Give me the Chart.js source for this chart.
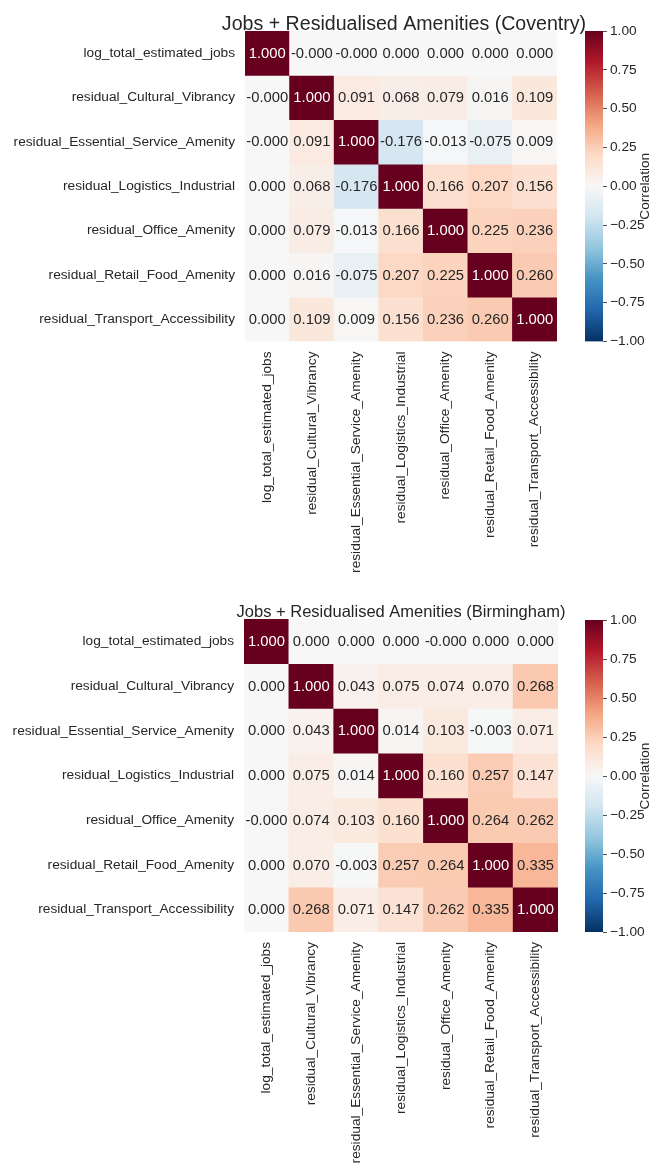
<!DOCTYPE html>
<html>
<head>
<meta charset="utf-8">
<script src="https://cdn.jsdelivr.net/npm/chart.js@4.4.1/dist/chart.umd.min.js"></script>
<style>
  html, body { margin: 0; padding: 0; background: #ffffff; }
  body { width: 660px; height: 1163px; position: relative; overflow: hidden; }
  canvas { position: absolute; }
</style>
</head>
<body>
<canvas id="hmCoventry"></canvas>
<canvas id="cbCoventry"></canvas>
<canvas id="hmBirmingham"></canvas>
<canvas id="cbBirmingham"></canvas>
<script>
// ---- data ---------------------------------------------------------------
const variables = [
  'log_total_estimated_jobs',
  'residual_Cultural_Vibrancy',
  'residual_Essential_Service_Amenity',
  'residual_Logistics_Industrial',
  'residual_Office_Amenity',
  'residual_Retail_Food_Amenity',
  'residual_Transport_Accessibility'
];

// tiny negative values print as "-0.000"
const coventryCorr = [
  [ 1.000, -0.0001, -0.0001,  0.000,  0.000,  0.000,  0.000],
  [-0.0001, 1.000,   0.091,   0.068,  0.079,  0.016,  0.109],
  [-0.0001, 0.091,   1.000,  -0.176, -0.013, -0.075,  0.009],
  [ 0.000,  0.068,  -0.176,   1.000,  0.166,  0.207,  0.156],
  [ 0.000,  0.079,  -0.013,   0.166,  1.000,  0.225,  0.236],
  [ 0.000,  0.016,  -0.075,   0.207,  0.225,  1.000,  0.260],
  [ 0.000,  0.109,   0.009,   0.156,  0.236,  0.260,  1.000]
];

const birminghamCorr = [
  [ 1.000,  0.000,  0.000,  0.000, -0.0001, 0.000,  0.000],
  [ 0.000,  1.000,  0.043,  0.075,  0.074,  0.070,  0.268],
  [ 0.000,  0.043,  1.000,  0.014,  0.103, -0.003,  0.071],
  [ 0.000,  0.075,  0.014,  1.000,  0.160,  0.257,  0.147],
  [-0.0001, 0.074,  0.103,  0.160,  1.000,  0.264,  0.262],
  [ 0.000,  0.070, -0.003,  0.257,  0.264,  1.000,  0.335],
  [ 0.000,  0.268,  0.071,  0.147,  0.262,  0.335,  1.000]
];

const colorbarTicks = [-1.00, -0.75, -0.50, -0.25, 0.00, 0.25, 0.50, 0.75, 1.00];
const colorbarLabel = 'Correlation';

const titleCoventry = 'Jobs + Residualised Amenities (Coventry)';
const titleBirmingham = 'Jobs + Residualised Amenities (Birmingham)';

// ---- styling ------------------------------------------------------------
const FONT = "'Liberation Sans', Arial, Helvetica, sans-serif";
const INK = '#262626';
Chart.defaults.font.family = FONT;
Chart.defaults.color = INK;

// diverging red/blue palette, -1 (blue) .. +1 (red)
const RDBU_R = ['#053061', '#2166ac', '#4393c3', '#92c5de', '#d1e5f0', '#f7f7f7',
                '#fddbc7', '#f4a582', '#d6604d', '#b2182b', '#67001f'];

function hexToRgb(h) {
  return [parseInt(h.slice(1, 3), 16), parseInt(h.slice(3, 5), 16), parseInt(h.slice(5, 7), 16)];
}
const RDBU_RGB = RDBU_R.map(hexToRgb);

function cmapRgb(v) {
  const t = Math.max(0, Math.min(1, (v + 1) / 2)) * (RDBU_RGB.length - 1);
  const i = Math.min(Math.floor(t), RDBU_RGB.length - 2);
  const f = t - i;
  const a = RDBU_RGB[i], b = RDBU_RGB[i + 1];
  return [0, 1, 2].map(k => Math.round(a[k] + (b[k] - a[k]) * f));
}
function cmap(v) {
  const c = cmapRgb(v);
  return `rgb(${c[0]},${c[1]},${c[2]})`;
}
// light cells get dark text, dark cells get white text
function textColorFor(v) {
  const lin = cmapRgb(v).map(x => {
    const s = x / 255;
    return s <= 0.03928 ? s / 12.92 : Math.pow((s + 0.055) / 1.055, 2.4);
  });
  const lum = 0.2126 * lin[0] + 0.7152 * lin[1] + 0.0722 * lin[2];
  return lum > 0.408 ? INK : '#ffffff';
}

// ---- plugins ------------------------------------------------------------
const cellLabels = {
  id: 'cellLabels',
  afterDatasetsDraw(chart, args, opts) {
    const ctx = chart.ctx;
    ctx.save();
    ctx.font = `${opts.size}px ${FONT}`;
    ctx.textAlign = 'center';
    ctx.textBaseline = 'middle';
    opts.matrix.forEach((row, r) => {
      const meta = chart.getDatasetMeta(r);
      meta.data.forEach((bar, c) => {
        const v = row[c];
        ctx.fillStyle = textColorFor(v);
        ctx.fillText(v.toFixed(3), bar.x, (bar.y + bar.base) / 2 + 0.5);
      });
    });
    ctx.restore();
  }
};

const areaTitle = {
  id: 'areaTitle',
  afterDraw(chart, args, opts) {
    const { ctx, chartArea } = chart;
    ctx.save();
    ctx.font = `${opts.size}px ${FONT}`;
    ctx.fillStyle = INK;
    ctx.textAlign = 'center';
    ctx.textBaseline = 'alphabetic';
    ctx.fillText(opts.text, (chartArea.left + chartArea.right) / 2 + opts.shift, opts.baseline);
    ctx.restore();
  }
};

const sideLabel = {
  id: 'sideLabel',
  afterDraw(chart, args, opts) {
    const { ctx, chartArea } = chart;
    ctx.save();
    ctx.font = `${opts.size}px ${FONT}`;
    ctx.fillStyle = INK;
    ctx.textAlign = 'center';
    ctx.textBaseline = 'middle';
    ctx.translate(opts.x, (chartArea.top + chartArea.bottom) / 2);
    ctx.rotate(-Math.PI / 2);
    ctx.fillText(opts.text, 0, 0);
    ctx.restore();
  }
};

// ---- panel builder ------------------------------------------------------
function buildPanel(cfg) {
  const W = 660;
  const H = cfg.height;

  // heatmap
  const hm = document.getElementById(cfg.heatmapId);
  hm.width = W; hm.height = H;
  hm.style.left = '0px'; hm.style.top = cfg.top + 'px';
  hm.style.width = W + 'px'; hm.style.height = H + 'px';

  const datasets = cfg.matrix.map((row, r) => ({
    label: variables[r],
    data: row.map(() => [r, r + 1]),
    backgroundColor: row.map(v => cmap(v)),
    borderWidth: 0,
    grouped: false,
    barPercentage: 1,
    categoryPercentage: 1
  }));

  new Chart(hm, {
    type: 'bar',
    data: { labels: variables, datasets },
    options: {
      responsive: false,
      animation: false,
      events: [],
      layout: { padding: { left: 0, top: cfg.area.top, right: W - cfg.area.right, bottom: 0 } },
      scales: {
        x: {
          type: 'category',
          grid: { display: false, drawTicks: false },
          border: { display: false },
          ticks: {
            autoSkip: false, minRotation: 90, maxRotation: 90,
            padding: 10, color: INK, font: { size: cfg.tickSize }
          },
          afterFit(scale) { scale.height = H - cfg.area.bottom; }
        },
        y: {
          type: 'linear', min: 0, max: variables.length, reverse: true,
          grid: { display: false, drawTicks: false },
          border: { display: false },
          afterBuildTicks(scale) { scale.ticks = variables.map((_, i) => ({ value: i + 0.5 })); },
          ticks: {
            padding: 10, color: INK, font: { size: cfg.tickSize },
            callback: (value, index) => variables[index]
          },
          afterFit(scale) { scale.width = cfg.area.left; }
        }
      },
      plugins: {
        legend: { display: false },
        tooltip: { enabled: false },
        title: { display: false },
        cellLabels: { matrix: cfg.matrix, size: cfg.annotSize },
        areaTitle: { text: cfg.title, size: cfg.titleSize, baseline: cfg.titleBaseline, shift: cfg.titleShift }
      }
    },
    plugins: [cellLabels, areaTitle]
  });

  // colour bar
  const CB_LEFT = 570, CB_W = 90;
  const cb = document.getElementById(cfg.colorbarId);
  cb.width = CB_W; cb.height = H;
  cb.style.left = CB_LEFT + 'px'; cb.style.top = cfg.top + 'px';
  cb.style.width = CB_W + 'px'; cb.style.height = H + 'px';

  new Chart(cb, {
    type: 'bar',
    data: {
      labels: [''],
      datasets: [{
        data: [[colorbarTicks[0], colorbarTicks[colorbarTicks.length - 1]]],
        borderWidth: 0,
        barPercentage: 1,
        categoryPercentage: 1,
        backgroundColor(ctx) {
          const chart = ctx.chart;
          const ys = chart.scales.y;
          if (!ys || !chart.chartArea) return '#ffffff';
          const y0 = ys.getPixelForValue(-1), y1 = ys.getPixelForValue(1);
          const g = chart.ctx.createLinearGradient(0, y0, 0, y1);
          const n = 40;
          for (let i = 0; i <= n; i++) g.addColorStop(i / n, cmap(-1 + 2 * i / n));
          return g;
        }
      }]
    },
    options: {
      responsive: false,
      animation: false,
      events: [],
      layout: {
        padding: { left: cfg.cbar.left - CB_LEFT, top: cfg.cbar.top, right: 0, bottom: H - cfg.cbar.bottom }
      },
      scales: {
        x: { display: false },
        y: {
          position: 'right', min: -1, max: 1,
          afterBuildTicks(scale) { scale.ticks = colorbarTicks.map(v => ({ value: v })); },
          ticks: {
            padding: 3, color: INK, font: { size: cfg.tickSize },
            callback: v => v.toFixed(2).replace('-', '\u2212')
          },
          grid: { drawOnChartArea: false, drawTicks: true, tickLength: 4, color: INK, lineWidth: 0.8 },
          border: { display: false },
          afterFit(scale) { scale.width = CB_W - (cfg.cbar.right - CB_LEFT); }
        }
      },
      plugins: {
        legend: { display: false },
        tooltip: { enabled: false },
        sideLabel: { text: colorbarLabel, size: cfg.tickSize, x: 645.5 - CB_LEFT }
      }
    },
    plugins: [sideLabel]
  });
}

buildPanel({
  heatmapId: 'hmCoventry', colorbarId: 'cbCoventry',
  top: 0, height: 588,
  matrix: coventryCorr,
  title: titleCoventry, titleSize: 19.6, titleBaseline: 30, titleShift: 3,
  tickSize: 13.7, annotSize: 14.8,
  area: { left: 245, right: 557, top: 31, bottom: 341.5 },
  cbar: { left: 585, right: 603, top: 31, bottom: 341.5 }
});

buildPanel({
  heatmapId: 'hmBirmingham', colorbarId: 'cbBirmingham',
  top: 588, height: 575,
  matrix: birminghamCorr,
  title: titleBirmingham, titleSize: 16.5, titleBaseline: 28.5, titleShift: 0,
  tickSize: 13.7, annotSize: 14.8,
  area: { left: 244, right: 558, top: 31, bottom: 344 },
  cbar: { left: 585, right: 603, top: 32, bottom: 344 }
});
</script>
</body>
</html>
